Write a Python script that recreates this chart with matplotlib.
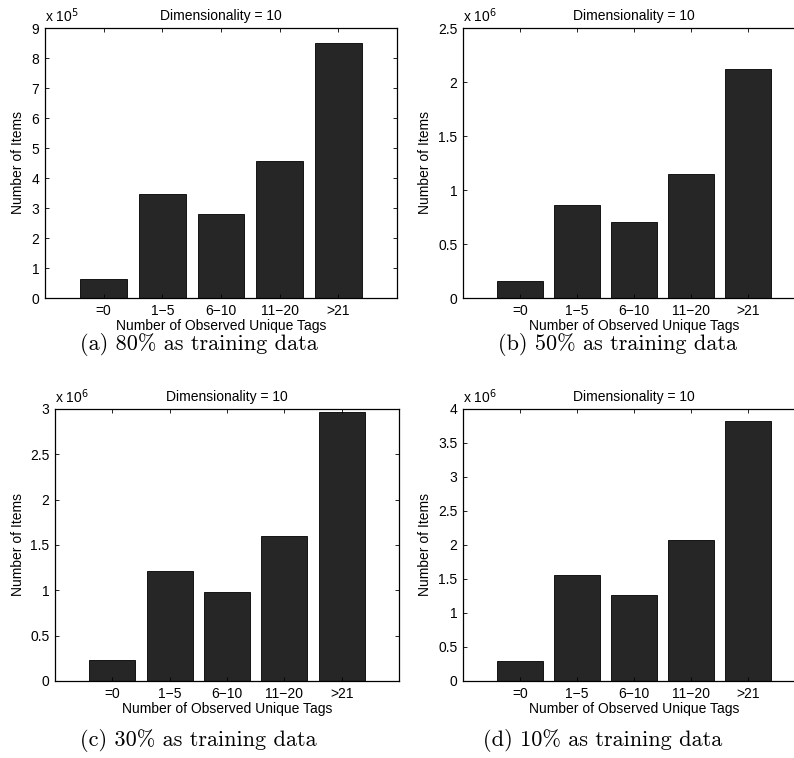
import numpy as np
import matplotlib
matplotlib.use("Agg")
import matplotlib.pyplot as plt
from matplotlib.ticker import FuncFormatter, MultipleLocator

# data
categories = ["=0", "1\u22125", "6\u221210", "11\u221220", ">21"]
items_80 = [0.65e5, 3.46e5, 2.80e5, 4.58e5, 8.50e5]
items_50 = [0.16e6, 0.86e6, 0.70e6, 1.15e6, 2.12e6]
items_30 = [0.23e6, 1.21e6, 0.98e6, 1.60e6, 2.97e6]
items_10 = [0.30e6, 1.56e6, 1.26e6, 2.07e6, 3.83e6]
captions = ["(a) 80% as training data", "(b) 50% as training data",
            "(c) 30% as training data", "(d) 10% as training data"]
exponents = [5, 6, 6, 6]
y_max = [9, 2.5, 3, 4]
y_step = [1, 0.5, 0.5, 0.5]

plt.rcParams["font.family"] = ["Liberation Sans", "DejaVu Sans"]

W, H = 794, 758
fig = plt.figure(figsize=(W / 100, H / 100), dpi=100)

# axes boxes in pixels: left, top, width, height
boxes = [(45, 28, 352, 270), (463, 28, 342, 270),
         (55, 409, 344, 272), (463, 409, 342, 272)]
ylabel_x = [25, 432, 25, 432]
caption_pos = [(199, 345), (618, 345), (198, 740), (603, 740)]
series = [items_80, items_50, items_30, items_10]
fs = 10

for i in range(4):
    l, t, w, h = boxes[i]
    ax = fig.add_axes([l / W, 1 - (t + h) / H, w / W, h / H])
    x = np.arange(1, len(categories) + 1)
    ax.bar(x, series[i], width=0.8, color="#262626", edgecolor="black",
           linewidth=0.6)
    scale = 10 ** exponents[i]
    ax.set_xlim(0, 6)
    ax.set_ylim(0, y_max[i] * scale)
    ax.yaxis.set_major_locator(MultipleLocator(y_step[i] * scale))
    ax.yaxis.set_major_formatter(FuncFormatter(lambda v, p, s=scale: f"{v / s:g}"))
    ax.set_xticks(x)
    ax.set_xticklabels(categories)
    ax.tick_params(direction="in", length=3, width=0.6, labelsize=fs,
                   top=True, right=True, pad=4)
    for sp in ax.spines.values():
        sp.set_linewidth(0.9)
    ax.set_title("Dimensionality = 10", fontsize=fs, pad=6)
    ax.set_xlabel("Number of Observed Unique Tags", fontsize=fs, labelpad=1)
    ax.set_ylabel("Number of Items", fontsize=fs)
    ax.yaxis.set_label_coords((ylabel_x[i] - l) / w, 0.5)
    ax.text(0, 1.01, "x 10$^{%d}$" % exponents[i], transform=ax.transAxes,
            fontsize=fs, ha="left", va="bottom")
    cx, cy = caption_pos[i]
    fig.text(cx / W, 1 - cy / H, captions[i], fontsize=16,
             family=["cmr10", "DejaVu Serif"], ha="center", va="center")

fig.savefig("out.png", dpi=100)
